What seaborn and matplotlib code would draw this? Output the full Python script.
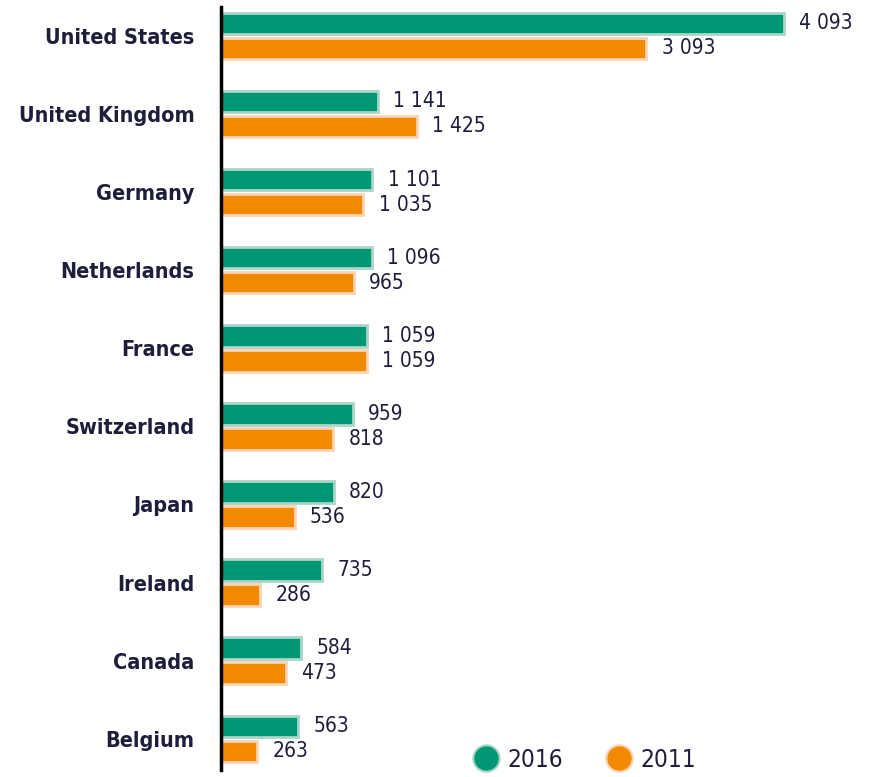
import matplotlib
matplotlib.use('Agg')
import matplotlib.pyplot as plt
import seaborn as sns
import pandas as pd
from matplotlib.lines import Line2D

countries = ["United States", "United Kingdom", "Germany", "Netherlands", "France",
             "Switzerland", "Japan", "Ireland", "Canada", "Belgium"]
values_2016 = [4093, 1141, 1101, 1096, 1059, 959, 820, 735, 584, 563]
values_2011 = [3093, 1425, 1035, 965, 1059, 818, 536, 286, 473, 263]
years = ["2016", "2011"]
colors = ["#009874", "#F28A00"]
edge_colors = ["#a9d6c6", "#fcd3b4"]

df = pd.DataFrame({
    "country": countries * 2,
    "value": values_2016 + values_2011,
    "year": [years[0]] * len(countries) + [years[1]] * len(countries),
})

sns.set_theme(style="white")
plt.rcParams["font.family"] = ["DejaVu Sans"]
plt.rcParams["font.stretch"] = "condensed"

fig = plt.figure(figsize=(8.71, 7.77), dpi=100)
ax = fig.add_axes([221 / 871, 7 / 777, 650 / 871, 763 / 777])

sns.barplot(data=df, y="country", x="value", hue="year", hue_order=years,
            palette=colors, saturation=1, orient="h", width=0.64, gap=0.14, ax=ax,
            legend=False, errorbar=None)

text_color = "#1e1e3c"
for cont, ec, vals in zip(ax.containers, edge_colors, [values_2016, values_2011]):
    for p in cont:
        p.set_edgecolor(ec)
        p.set_linewidth(2)
    labels = [f"{v:,}".replace(",", " ") for v in vals]
    ax.bar_label(cont, labels=labels, padding=11, fontsize=15, color=text_color,
                 fontstretch="condensed")

ax.set_xlim(0, 650 / 0.1375)
ax.set_ylim(9.40, -0.37)
ax.set_xlabel("")
ax.set_ylabel("")
ax.set_xticks([])
ax.tick_params(axis="y", length=0, pad=19)
for lab in ax.get_yticklabels():
    lab.set_fontsize(15.5)
    lab.set_fontweight("bold")
    lab.set_fontstretch("condensed")
    lab.set_color(text_color)

for s in ["top", "right", "bottom"]:
    ax.spines[s].set_visible(False)
ax.spines["left"].set_color("black")
ax.spines["left"].set_linewidth(2.5)

handles = [Line2D([], [], marker="o", linestyle="", markersize=19,
                  markerfacecolor=c, markeredgecolor=e, markeredgewidth=1.5)
           for c, e in zip(colors, edge_colors)]
leg = fig.legend(handles, years, loc="center", bbox_to_anchor=(584 / 871, 1 - 760 / 777),
                 ncol=2, frameon=False, columnspacing=1.75, handlelength=1.15,
                 handletextpad=0.3, borderpad=0,
                 prop={"size": 17.5, "stretch": "condensed"})
for t in leg.get_texts():
    t.set_color(text_color)

fig.savefig("out.png", dpi=100)
